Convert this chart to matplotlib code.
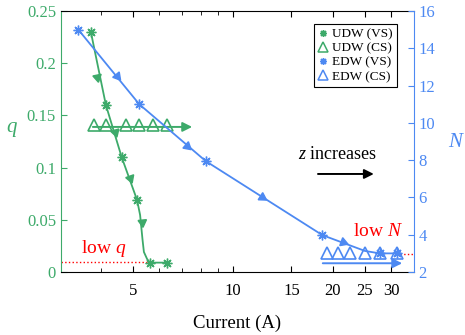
import numpy as np
import matplotlib
matplotlib.use("Agg")
import matplotlib.pyplot as plt
from matplotlib.ticker import FixedLocator, NullFormatter
from matplotlib.lines import Line2D

plt.rcParams['font.family'] = ['Liberation Serif', 'DejaVu Serif']
plt.rcParams['mathtext.fontset'] = 'custom'
plt.rcParams['mathtext.rm'] = 'Liberation Serif'
plt.rcParams['mathtext.it'] = 'Liberation Serif:italic'

green = '#3daa6a'
blue = '#4d89f2'

# UDW (VS): current vs q
udw_vs_I = [3.73, 4.14, 4.62, 5.14, 5.62, 6.34]
udw_vs_q = [0.230, 0.160, 0.110, 0.069, 0.009, 0.009]
# green trend curve
udw_curve_I = [3.73, 4.14, 4.62, 5.14, 5.25, 5.34, 5.39, 5.51, 5.62, 6.34]
udw_curve_q = [0.230, 0.160, 0.110, 0.069, 0.0546, 0.0307, 0.0192, 0.0125, 0.009, 0.009]
udw_arrow_I = [3.90, 4.41, 4.90, 5.31]
udw_arrow_q = [0.187, 0.134, 0.090, 0.048]

# UDW (CS)
udw_cs_I = [3.82, 4.14, 4.75, 5.21, 5.73, 6.31]
udw_cs_q = [0.141] * 6

# EDW (VS): current vs N
edw_vs_I = [3.42, 5.22, 8.28, 18.6, 27.7, 31.3]
edw_vs_N = [15.0, 11.0, 7.95, 3.98, 3.0, 3.0]
edw_curve_I = [3.42, 5.22, 8.28, 18.6, 25.0, 27.7, 31.3]
edw_curve_N = [15.0, 11.0, 7.95, 3.98, 3.13, 3.0, 3.0]
edw_arrow_I = [4.46, 7.25, 12.2, 21.4]
edw_arrow_N = [12.5, 8.78, 6.04, 3.63]

# EDW (CS)
edw_cs_I = [19.2, 20.8, 22.5, 25.0, 27.7, 31.3]
edw_cs_N = [3.0] * 6

fig = plt.figure(figsize=(4.65, 3.35), dpi=100)
ax = fig.add_axes([0.131, 0.188, 0.759, 0.779])
ax.set_xscale('log')
ax.set_xlim(3.03, 35.1)
ax.set_ylim(0, 0.25)
ax2 = ax.twinx()
ax2.set_ylim(2, 16)

star = (8, 2, 0)

# low q / low N guides
ax.plot([3.03, 5.62], [0.01, 0.01], ':', color='red', lw=1)
ax2.plot([31.8, 35.1], [2.95, 2.95], ':', color='red', lw=1)

# green curve
ax.plot(udw_curve_I, udw_curve_q, '-', color=green, lw=1.3)
ax.plot(udw_vs_I, udw_vs_q, ls='none', marker=star, ms=7, mew=1.0, color=green)
ax.plot(udw_cs_I, udw_cs_q, ls='none', marker='^', ms=8, mfc='none', mew=1.2, color=green)
ax.annotate('', xy=(7.68, 0.139), xytext=(3.71, 0.139),
            arrowprops=dict(arrowstyle='-|>', color=green, lw=1.4, mutation_scale=14))

# blue curve
ax2.plot(edw_curve_I, edw_curve_N, '-', color=blue, lw=1.3)
ax2.plot(edw_vs_I, edw_vs_N, ls='none', marker=star, ms=7, mew=1.0, color=blue)
ax2.plot(edw_cs_I, edw_cs_N, ls='none', marker='^', ms=8, mfc='none', mew=1.2, color=blue)
ax2.annotate('', xy=(33.0, 2.47), xytext=(18.3, 2.47),
             arrowprops=dict(arrowstyle='-|>', color=blue, lw=1.4, mutation_scale=14))


def direction_arrows(a, cx, cy, axs, ays, col):
    pts = a.transData.transform(np.column_stack([cx, cy]))
    for xa, ya in zip(axs, ays):
        k = int(np.searchsorted(cx, xa))
        k = min(max(k, 1), len(cx) - 1)
        dx, dy = pts[k] - pts[k - 1]
        ang = np.degrees(np.arctan2(dy, dx))
        a.plot([xa], [ya], ls='none', marker=(3, 0, ang - 90), ms=7, color=col)


direction_arrows(ax, udw_curve_I, udw_curve_q, udw_arrow_I, udw_arrow_q, green)
direction_arrows(ax2, edw_curve_I, edw_curve_N, edw_arrow_I, edw_arrow_N, blue)

# annotations
ax.text(3.48, 0.023, 'low $q$', color='red', fontsize=14, va='center', ha='left')
ax2.text(27.3, 4.15, 'low $N$', color='red', fontsize=14, va='center', ha='center')
ax2.text(20.7, 8.28, '$z$ increases', color='black', fontsize=13, va='center', ha='center')
ax2.annotate('', xy=(27.1, 7.26), xytext=(17.7, 7.26),
             arrowprops=dict(arrowstyle='-|>', color='black', lw=1.4, mutation_scale=14))

# x axis
ax.xaxis.set_major_locator(FixedLocator([5, 10, 15, 20, 25, 30]))
ax.set_xticklabels(['5', '10', '15', '20', '25', '30'])
ax.xaxis.set_minor_locator(FixedLocator([4, 6, 7, 8, 9]))
ax.xaxis.set_minor_formatter(NullFormatter())
ax.tick_params(axis='x', which='both', direction='in', top=True, length=4, labelsize=12, pad=8)
ax.tick_params(axis='x', which='minor', length=3)
ax.set_xlabel('Current (A)', fontsize=13.5)
ax.xaxis.set_label_coords(0.50, -0.165)

# left axis
ax.set_yticks([0, 0.05, 0.1, 0.15, 0.2, 0.25])
ax.set_yticklabels(['0', '0.05', '0.1', '0.15', '0.2', '0.25'])
ax.tick_params(axis='y', direction='in', colors=green, length=4, labelsize=12, right=False)
ax.set_ylabel('$q$', color=green, fontsize=15, rotation=0)
ax.yaxis.set_label_coords(-0.139, 0.51)

# right axis
ax2.set_yticks([2, 4, 6, 8, 10, 12, 14, 16])
ax2.tick_params(axis='y', direction='in', colors=blue, length=4, labelsize=12)
ax2.set_ylabel('$N$', color=blue, fontsize=15, rotation=0)
ax2.yaxis.set_label_coords(1.122, 0.533)

ax.spines['left'].set_color(green)
ax.spines['right'].set_visible(False)
ax2.spines['left'].set_visible(False)
ax2.spines['right'].set_color(blue)
for s in ['top', 'bottom']:
    ax2.spines[s].set_visible(False)
    ax.spines[s].set_color('black')

# legend
handles = [
    Line2D([], [], ls='none', marker=star, ms=5, mew=1.0, color=green),
    Line2D([], [], ls='none', marker='^', ms=7, mfc='none', mew=1.1, color=green),
    Line2D([], [], ls='none', marker=star, ms=5, mew=1.0, color=blue),
    Line2D([], [], ls='none', marker='^', ms=7, mfc='none', mew=1.1, color=blue),
]
labels = ['UDW (VS)', 'UDW (CS)', 'EDW (VS)', 'EDW (CS)']
leg = ax2.legend(handles, labels, loc='upper right', bbox_to_anchor=(0.952, 0.950),
                 borderaxespad=0, fontsize=9.5, fancybox=False, framealpha=1,
                 edgecolor='black', handlelength=0.8, handletextpad=0.3,
                 labelspacing=0.15, borderpad=0.3)
leg.get_frame().set_linewidth(0.8)

fig.savefig('out.png', dpi=100)
